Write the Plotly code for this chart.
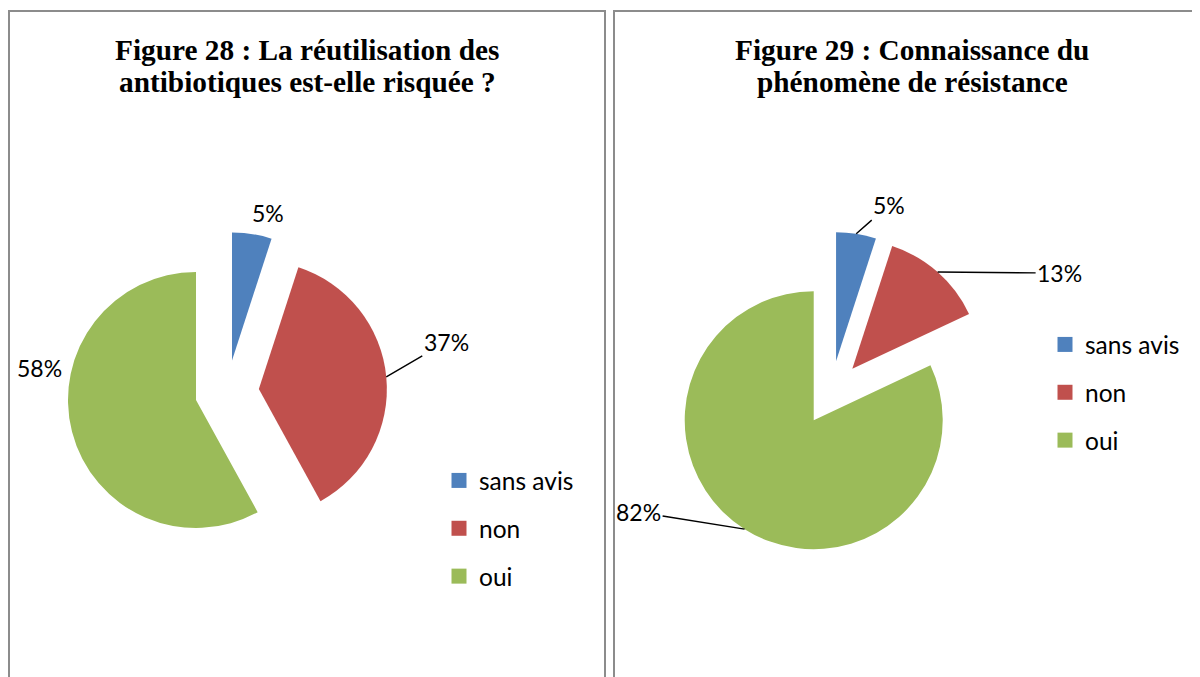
import math
import plotly.graph_objects as go

# ---- data ----
categories = ["sans avis", "non", "oui"]
fig28_values = [5, 37, 58]
fig29_values = [5, 13, 82]
colors = ["#4F81BD", "#C0504D", "#9BBB59"]
fig28_title = ["Figure 28 : La réutilisation des", "antibiotiques est-elle risquée ?"]
fig29_title = ["Figure 29 : Connaissance du", "phénomène de résistance"]

W, H = 1200, 677
PAGE_OFFSET = 8  # default body margin of the html page


def px(x):
    return (x - PAGE_OFFSET) / W


def py(y):
    return 1 - (y - PAGE_OFFSET) / H


label_font = dict(family="Lato", size=23, color="black")
legend_font = dict(family="Lato", size=24.5, color="black")
title_font = dict(family="Liberation Serif", size=29.3, color="black")

PULL = 0.25
# pie geometry (centre x, centre y, radius in px) and data-label placement (pixel offsets, leader line?)
charts = [
    dict(values=fig28_values, geom=(227, 392, 128),
         label_offsets=[(16, -21, False), (60, -35, True), (-33, -64, False)]),
    dict(values=fig29_values, geom=(831, 393, 129),
         label_offsets=[(33, -29, True), (122, 1, True), (-106, -17, True)]),
]

fig = go.Figure()
annotations = []

for ch in charts:
    vals = ch["values"]
    cx, cy, r = ch["geom"]
    half = r * (1 + PULL)
    fig.add_trace(go.Pie(
        labels=categories, values=vals, sort=False, direction="clockwise",
        rotation=0, pull=PULL, marker=dict(colors=colors),
        textinfo="none", showlegend=False, hoverinfo="skip",
        domain=dict(x=[px(cx - half), px(cx + half)], y=[py(cy + half), py(cy - half)]),
    ))
    total = sum(vals)
    cum = 0
    for v, (ox, oy, line) in zip(vals, ch["label_offsets"]):
        mid = math.radians((cum + v / 2) / total * 360)
        cum += v
        sx = cx + PULL * r * math.sin(mid)
        sy = cy - PULL * r * math.cos(mid)
        ax_pt = sx + r * math.sin(mid)
        ay_pt = sy - r * math.cos(mid)
        annotations.append(dict(
            text=f"{round(v / total * 100)}%", x=px(ax_pt), y=py(ay_pt),
            xref="paper", yref="paper", ax=ox, ay=oy,
            showarrow=True, arrowhead=0, arrowwidth=1.4,
            arrowcolor="black" if line else "rgba(0,0,0,0)",
            font=label_font, standoff=0,
        ))

# legend entries (one per category, per chart)
for legend_name in ["legend", "legend2"]:
    for cat, col in zip(categories, colors):
        fig.add_trace(go.Scatter(
            x=[None], y=[None], mode="markers", name=cat,
            marker=dict(symbol="square", size=15, color=col),
            legend=legend_name, legendgroup=legend_name + cat, showlegend=True,
            hoverinfo="skip",
        ))

for lines, cxp in [(fig28_title, 307), (fig29_title, 912)]:
    for i, line in enumerate(lines):
        annotations.append(dict(
            text="<b>" + line + "</b>", x=px(cxp), y=py(50 + 32 * i),
            xref="paper", yref="paper", xanchor="center", yanchor="middle",
            showarrow=False, font=title_font,
        ))

border = dict(color="#8C8C8C", width=2)
shapes = [
    dict(type="rect", xref="paper", yref="paper", x0=px(9), x1=px(605), y0=-0.1, y1=py(11), line=border),
    dict(type="rect", xref="paper", yref="paper", x0=px(614), x1=1.1, y0=-0.1, y1=py(11), line=border),
]

legend_common = dict(
    xanchor="left", yanchor="top", font=legend_font, tracegroupgap=13,
    bgcolor="rgba(0,0,0,0)", itemwidth=30, borderwidth=0,
)

fig.update_layout(
    width=W, height=H, margin=dict(l=0, r=0, t=0, b=0, autoexpand=False),
    paper_bgcolor="white", plot_bgcolor="white",
    xaxis=dict(visible=False), yaxis=dict(visible=False),
    annotations=annotations, shapes=shapes,
    legend=dict(x=px(439), y=py(458), **legend_common),
    legend2=dict(x=px(1045), y=py(322), **legend_common),
)

fig.write_html("out.html")
